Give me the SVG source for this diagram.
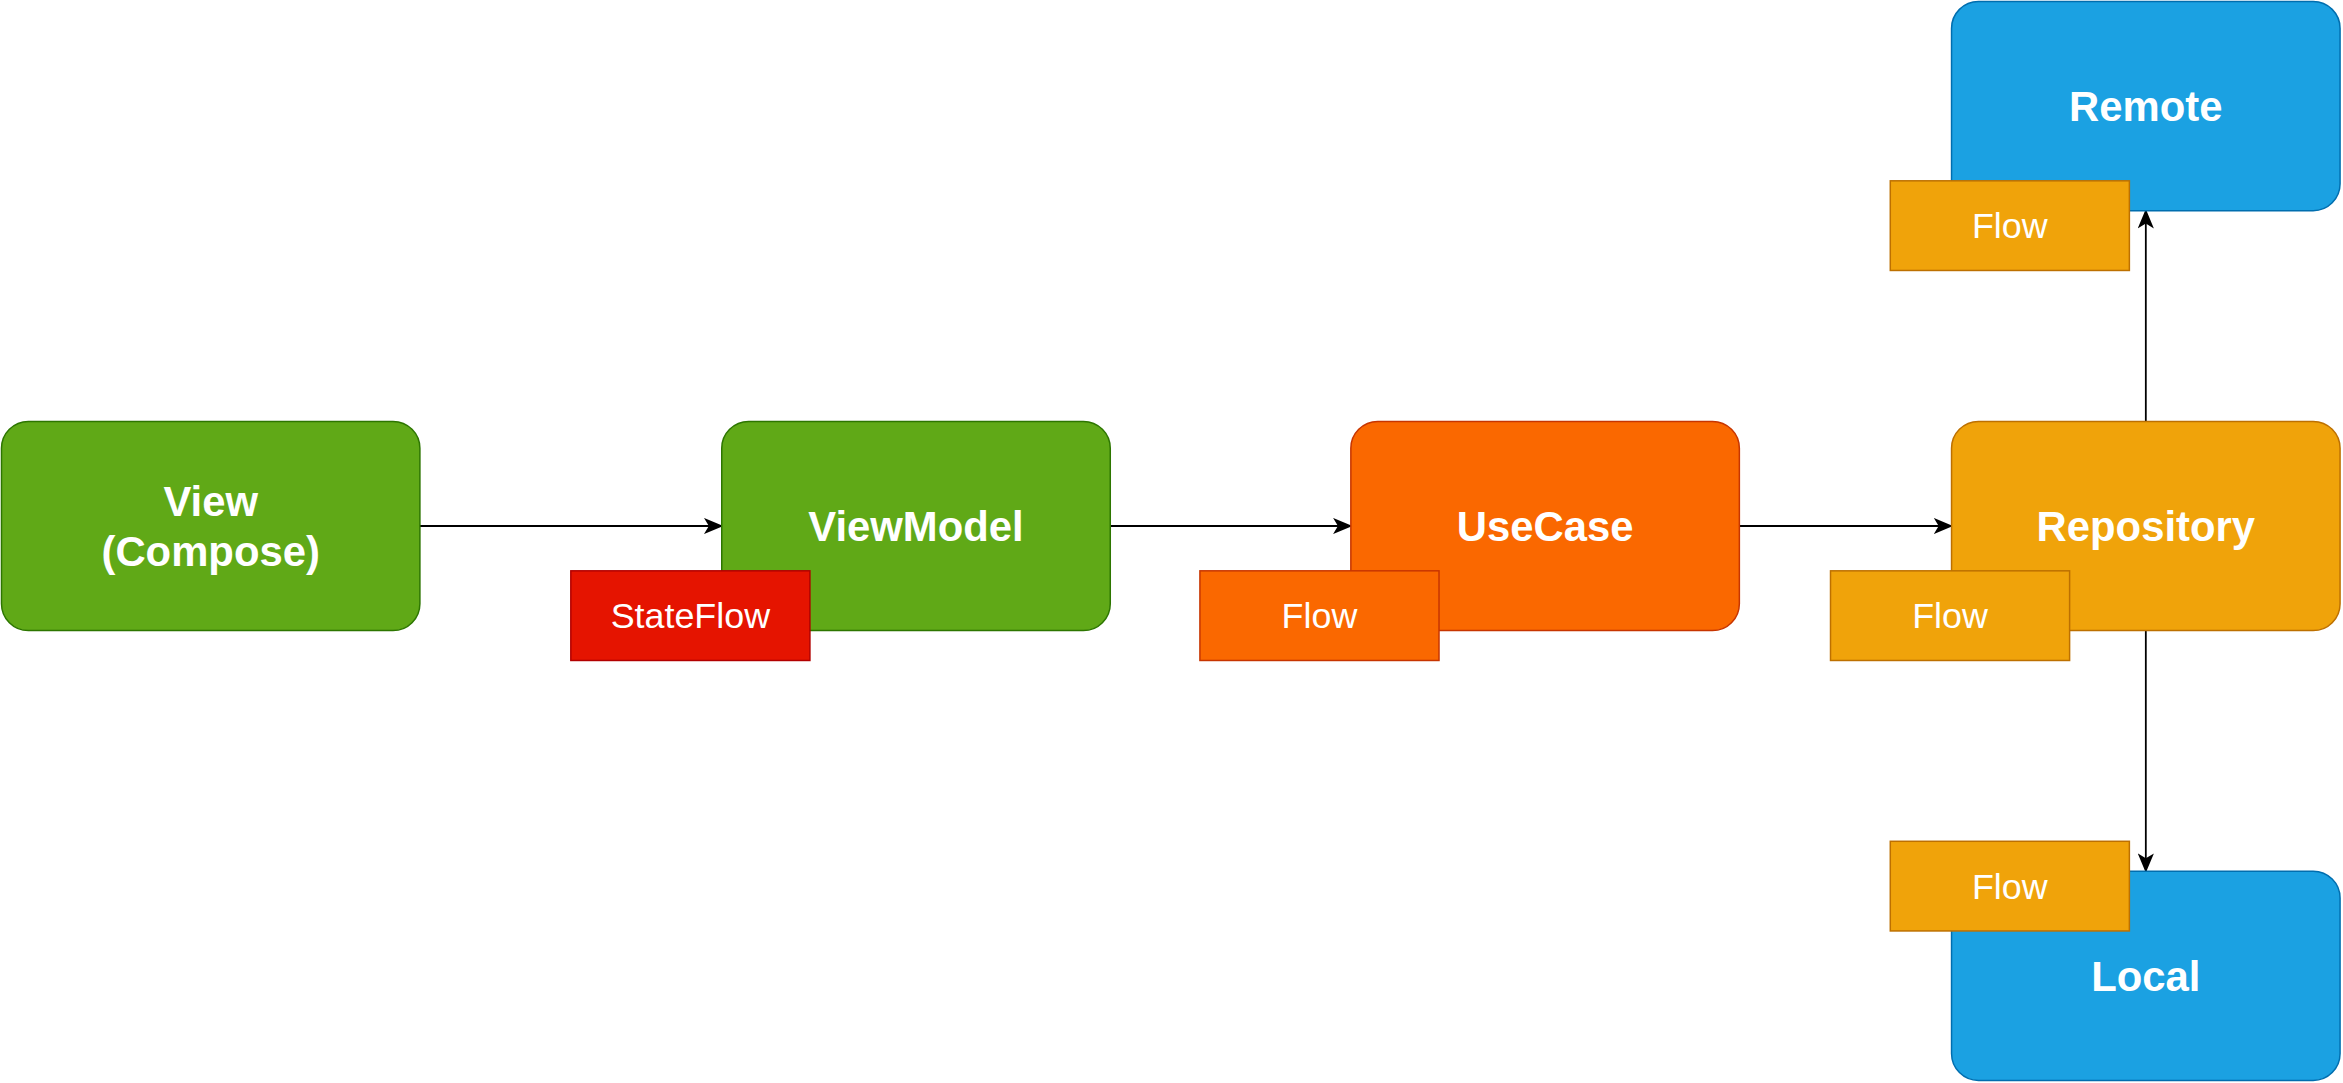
<svg xmlns="http://www.w3.org/2000/svg" width="2343" height="1083" viewBox="0 0 2343 1083">
  <style>
    .node { stroke-width: 1; }
    .green { fill: #60a917; stroke: #2d7600; }
    .orange { fill: #fa6800; stroke: #c73500; }
    .amber { fill: #f0a30a; stroke: #bd7000; }
    .blue { fill: #1ba1e2; stroke: #006eaf; }
    .red { fill: #e51400; stroke: #b20000; }
    .title { font-family: "Liberation Sans", Arial, Helvetica, sans-serif; font-weight: bold; font-size: 28px; fill: #ffffff; text-anchor: middle; }
    .badge { font-family: "Liberation Sans", Arial, Helvetica, sans-serif; font-size: 24px; fill: #ffffff; text-anchor: middle; }
    .edge { fill: none; stroke: #000000; stroke-width: 1.2; }
  </style>
  <defs>
    <marker id="arrow" viewBox="0 0 12 10" refX="11" refY="5" markerWidth="11" markerHeight="9" markerUnits="strokeWidth" orient="auto">
      <path d="M0,0 L12,5 L0,10 L3,5 Z" fill="#000000"/>
    </marker>
  </defs>
  <rect width="2343" height="1083" fill="#ffffff"/>
  <g transform="scale(1.4943)">
    <g id="connectors">
      <path class="edge" d="M281,352 L483,352" marker-end="url(#arrow)"/>
      <path class="edge" d="M743,352 L904,352" marker-end="url(#arrow)"/>
      <path class="edge" d="M1164,352 L1306,352" marker-end="url(#arrow)"/>
      <path class="edge" d="M1436,282 L1436,141" marker-end="url(#arrow)"/>
      <path class="edge" d="M1436,422 L1436,583" marker-end="url(#arrow)"/>
    </g>
    <g id="view">
      <rect class="node green" x="1" y="282" width="280" height="140" rx="18" ry="18"/>
      <text class="title" x="141" y="345">View</text>
      <text class="title" x="141" y="379">(Compose)</text>
    </g>
    <g id="viewmodel">
      <rect class="node green" x="483" y="282" width="260" height="140" rx="18" ry="18"/>
      <text class="title" x="613" y="362">ViewModel</text>
    </g>
    <g id="stateflow">
      <rect class="node red" x="382" y="382" width="160" height="60"/>
      <text class="badge" x="462" y="420.5">StateFlow</text>
    </g>
    <g id="usecase">
      <rect class="node orange" x="904" y="282" width="260" height="140" rx="18" ry="18"/>
      <text class="title" x="1034" y="362">UseCase</text>
    </g>
    <g id="usecase-flow">
      <rect class="node orange" x="803" y="382" width="160" height="60"/>
      <text class="badge" x="883" y="420.5">Flow</text>
    </g>
    <g id="repository">
      <rect class="node amber" x="1306" y="282" width="260" height="140" rx="18" ry="18"/>
      <text class="title" x="1436" y="362">Repository</text>
    </g>
    <g id="repository-flow">
      <rect class="node amber" x="1225" y="382" width="160" height="60"/>
      <text class="badge" x="1305" y="420.5">Flow</text>
    </g>
    <g id="remote">
      <rect class="node blue" x="1306" y="1" width="260" height="140" rx="18" ry="18"/>
      <text class="title" x="1436" y="81">Remote</text>
    </g>
    <g id="remote-flow">
      <rect class="node amber" x="1265" y="121" width="160" height="60"/>
      <text class="badge" x="1345" y="159.5">Flow</text>
    </g>
    <g id="local">
      <rect class="node blue" x="1306" y="583" width="260" height="140" rx="18" ry="18"/>
      <text class="title" x="1436" y="663">Local</text>
    </g>
    <g id="local-flow">
      <rect class="node amber" x="1265" y="563" width="160" height="60"/>
      <text class="badge" x="1345" y="601.5">Flow</text>
    </g>
  </g>
</svg>
